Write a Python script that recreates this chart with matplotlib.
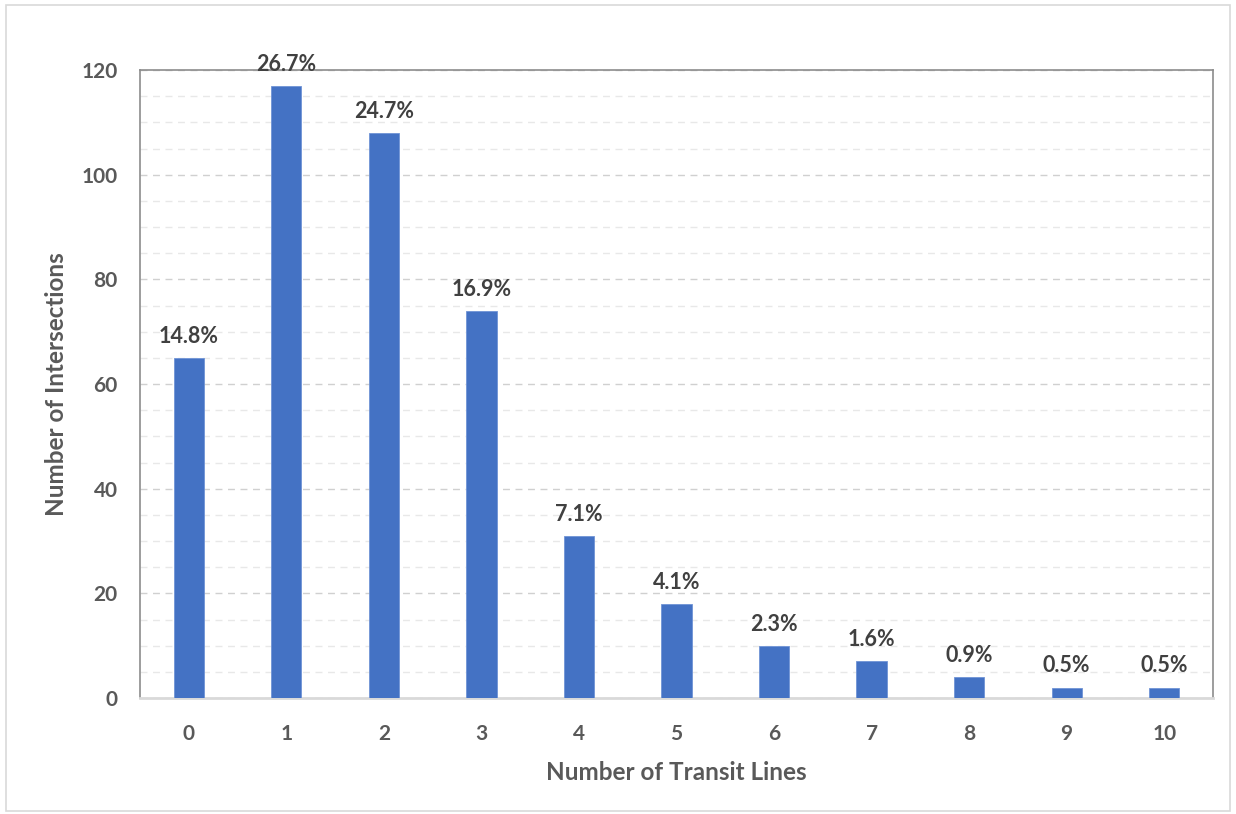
import matplotlib
matplotlib.use('Agg')
from matplotlib import pyplot as plt
from matplotlib.patches import Rectangle
from matplotlib.ticker import MultipleLocator

# transit lines per intersection
lines = [0, 1, 2, 3, 4, 5, 6, 7, 8, 9, 10]
counts = [65, 117, 108, 74, 31, 18, 10, 7, 4, 2, 2]
shares = ['14.8%', '26.7%', '24.7%', '16.9%', '7.1%', '4.1%', '2.3%', '1.6%', '0.9%', '0.5%', '0.5%']

plt.rcParams['font.family'] = ['Lato', 'DejaVu Sans']
plt.rcParams['font.weight'] = 'bold'
txt = '#595959'

fig = plt.figure(figsize=(12.36, 8.14), dpi=100)
ax = fig.add_axes([140 / 1236, 1 - 698 / 814, (1213 - 140) / 1236, (698 - 70) / 814])

# light frame around the whole chart area
fig.patches.append(Rectangle((6 / 1236, 0.004), 1 - 12 / 1236, 1 - 8 / 814, transform=fig.transFigure,
                             fill=False, edgecolor='#d9d9d9', linewidth=1.2))

ax.bar(lines, counts, width=0.31, color='#4472C4', edgecolor='#6f93d6', linewidth=0.6, zorder=3)
for x, y, s in zip(lines, counts, shares):
    ax.annotate(s, (x, y), xytext=(0, 8), textcoords='offset points', ha='center', va='bottom',
                fontsize=15.5, fontweight='bold', color='#404040')

ax.set_xlim(-0.5, 10.5)
ax.set_ylim(0, 120)
ax.set_xticks(lines)
ax.yaxis.set_major_locator(MultipleLocator(20))
ax.yaxis.set_minor_locator(MultipleLocator(5))
ax.grid(axis='y', which='major', linestyle=(0, (5, 4)), color='#d0d0d0', linewidth=1.0, zorder=0)
ax.grid(axis='y', which='minor', linestyle=(0, (5, 4)), color='#e8e8e8', linewidth=1.0, zorder=0)
ax.tick_params(axis='both', which='both', length=0, labelsize=15, labelcolor=txt)
ax.tick_params(axis='x', pad=19)
ax.tick_params(axis='y', pad=16)
for lab in ax.get_xticklabels() + ax.get_yticklabels():
    lab.set_fontweight('bold')

for side in ['left', 'top', 'right']:
    ax.spines[side].set_color('#8c8c8c')
    ax.spines[side].set_linewidth(1.2)
ax.spines['bottom'].set_color('#d9d9d9')
ax.spines['bottom'].set_linewidth(2)

ax.set_xlabel('Number of Transit Lines', fontsize=17.5, fontweight='bold', color=txt)
ax.set_ylabel('Number of Intersections', fontsize=17.5, fontweight='bold', color=txt)
ax.xaxis.set_label_coords(0.5, -0.1)
ax.yaxis.set_label_coords(-0.067, 0.5)

fig.savefig('out.png', dpi=100)
